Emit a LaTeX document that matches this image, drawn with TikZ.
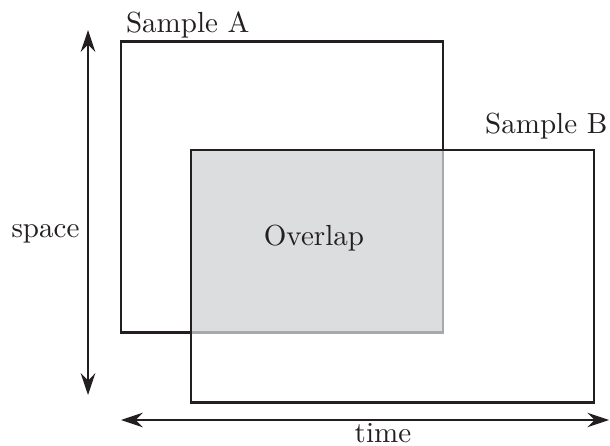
\documentclass[tikz,border=0pt]{standalone}
\usepackage{tikz}
\usetikzlibrary{arrows.meta}
\definecolor{ink}{RGB}{35,31,32}
\definecolor{overlapfill}{RGB}{220,221,223}
\definecolor{overlapedge}{RGB}{167,169,172}

\begin{document}
\begin{tikzpicture}[
  >={Stealth[length=7.5pt, width=5pt, inset=2.5pt]},
  every node/.style={font=\normalsize, text=ink, inner sep=0pt},
  sample/.style={draw=ink, line width=1pt},
  overlapline/.style={draw=overlapedge, line width=1pt},
  axis/.style={<->, draw=ink, line width=0.6pt},
]
\useasboundingbox (0,0) rectangle (7.381,5.385);

% ---- corners of the two samples ----
\coordinate (anw) at (1.464, 4.888);
\coordinate (ase) at (5.360, 1.367);
\coordinate (bnw) at (2.311, 3.570);
\coordinate (bse) at (7.187, 0.520);

% ---- ends of the axes ----
\coordinate (stop) at (1.065, 5.022);
\coordinate (sbot) at (1.065, 0.605);
\coordinate (tleft) at (1.464, 0.303);
\coordinate (tright) at (7.370, 0.303);

% ---- overlap, then the samples ----
\fill[overlapfill] (bnw) rectangle (ase);
\draw[sample] (anw) rectangle (ase);
\draw[overlapline] (bnw -| ase) -- (ase) -- (ase -| bnw);
\draw[sample] (bnw) rectangle (bse);

% ---- axes ----
\draw[axis] (stop) -- (sbot);
\draw[axis] (tleft) -- (tright);

% ---- labels ----
\node[anchor=base west] (laba) at ([shift={(0.054,0.109)}]anw) {Sample A};
\node[anchor=base east] (labb) at ([shift={(0.170,0.205)}]bnw -| bse) {Sample B};
\node[anchor=base] (labo) at (3.799, 2.420) {Overlap};
\node[anchor=base east] (labs) at (0.968, 2.517) {space};
\node[anchor=base] (labt) at (4.634, 0.030) {time};

\end{tikzpicture}
\end{document}
